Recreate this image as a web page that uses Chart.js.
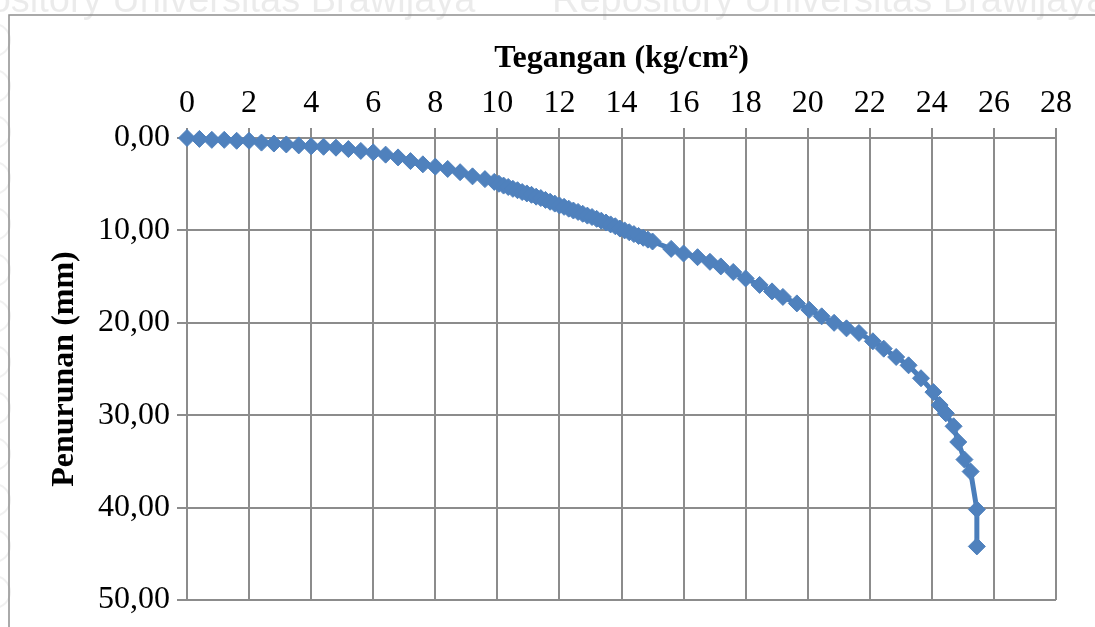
<!DOCTYPE html>
<html>
<head>
<meta charset="utf-8">
<script src="https://cdn.jsdelivr.net/npm/chart.js@4"></script>
<style>
    html, body { margin: 0; padding: 0; background: #fff; }
    canvas { display: block; }
</style>
</head>
<body>
<canvas id="myChart" width="1095" height="627"></canvas>
<script>
// Tegangan (kg/cm2) vs penurunan (mm)
const tegangan = [
    0, 0.4, 0.8, 1.2, 1.6, 2.0, 2.4, 2.8, 3.2, 3.6,
    4.0, 4.4, 4.8, 5.2, 5.6, 6.0, 6.4, 6.8, 7.2, 7.6,
    8.0, 8.4, 8.8, 9.2, 9.6,
    9.90, 10.05, 10.20, 10.35, 10.50, 10.65, 10.80, 10.95, 11.10, 11.25,
    11.40, 11.55, 11.70, 11.85, 12.00, 12.15, 12.30, 12.45, 12.60, 12.75,
    12.90, 13.05, 13.20, 13.35, 13.50, 13.65, 13.80, 13.95, 14.10, 14.25,
    14.40, 14.55, 14.70, 14.85, 15.00,
    15.60, 16.00, 16.45, 16.85, 17.20, 17.60, 18.00, 18.45, 18.85, 19.20,
    19.65, 20.05, 20.45, 20.85, 21.25, 21.65, 22.10, 22.45, 22.85, 23.25,
    23.65, 24.05, 24.25, 24.45, 24.70, 24.85, 25.05, 25.25, 25.45, 25.45
];
const penurunan = [
    0, 0.1, 0.2, 0.2, 0.3, 0.3, 0.5, 0.6, 0.7, 0.8,
    0.9, 0.95, 1.05, 1.2, 1.4, 1.55, 1.8, 2.1, 2.5, 2.85,
    3.1, 3.35, 3.7, 4.15, 4.45,
    4.75, 4.95, 5.15, 5.30, 5.50, 5.65, 5.85, 6.00, 6.15, 6.35,
    6.50, 6.70, 6.90, 7.10, 7.30, 7.45, 7.65, 7.85, 8.00, 8.20,
    8.40, 8.55, 8.75, 8.95, 9.15, 9.35, 9.55, 9.80, 10.00, 10.20,
    10.40, 10.60, 10.80, 11.00, 11.20,
    12.0, 12.5, 12.9, 13.4, 13.9, 14.5, 15.2, 15.9, 16.6, 17.2,
    17.9, 18.6, 19.3, 20.0, 20.6, 21.1, 22.0, 22.8, 23.7, 24.6,
    26.0, 27.5, 28.9, 29.8, 31.2, 32.9, 34.8, 36.1, 40.2, 44.2
];
const xTicks = [0, 28, 2];   // min, max, step
const yTicks = [0, 50, 10];

const gridColor = '#8c8c8c';
const serif = '"Liberation Serif", "Times New Roman", serif';

// white page, faint repository watermark and the outer frame
const pageBackground = {
    id: 'pageBackground',
    beforeDraw(chart) {
        const c = chart.ctx;
        c.save();
        c.fillStyle = '#fff';
        c.fillRect(0, 0, chart.width, chart.height);
        c.font = '38px "Liberation Sans", Arial, sans-serif';
        c.fillStyle = 'rgba(0,0,0,0.08)';
        c.textBaseline = 'alphabetic';
        c.fillText('Repository Universitas Brawijaya', -80, 12);
        c.fillText('Repository Universitas Brawijaya', 552, 12);
        c.strokeStyle = 'rgba(0,0,0,0.06)';
        c.lineWidth = 2;
        for (let y = 40; y < chart.height; y += 46) {
            c.beginPath();
            c.arc(-6, y, 16, 0, Math.PI * 2);
            c.stroke();
        }
        c.strokeStyle = '#8f8f8f';
        c.lineWidth = 1.5;
        c.strokeRect(9, 15, 1200, 700);
        c.restore();
    }
};

const ctx = document.getElementById('myChart').getContext('2d');
const myChart = new Chart(ctx, {
    type: 'scatter',
    data: {
        datasets: [{
            data: tegangan.map((t, i) => ({ x: t, y: penurunan[i] })),
            showLine: true,
            borderColor: '#4A7EBB',
            borderWidth: 5,
            pointStyle: 'rectRot',
            pointRadius: 8.5,
            pointBackgroundColor: '#4F81BD',
            pointBorderColor: '#4F81BD',
            pointBorderWidth: 1,
            tension: 0,
            clip: false
        }]
    },
    options: {
        responsive: false,
        animation: false,
        layout: {
            padding: { left: 20, top: 20, right: 39, bottom: 27 }
        },
        plugins: {
            legend: { display: false },
            title: { display: false },
            tooltip: { enabled: false }
        },
        scales: {
            x: {
                type: 'linear',
                position: 'top',
                min: xTicks[0],
                max: xTicks[1],
                afterFit(scale) { scale.height = 138 - 20; },
                ticks: {
                    stepSize: xTicks[2],
                    color: '#000',
                    padding: 5,
                    font: { family: serif, size: 32 }
                },
                grid: {
                    color: gridColor,
                    lineWidth: 2,
                    tickLength: 10
                },
                border: { color: gridColor, width: 2 },
                title: {
                    display: true,
                    text: 'Tegangan (kg/cm²)',
                    color: '#000',
                    padding: { top: 20, bottom: 0 },
                    font: { family: serif, size: 32, weight: 'bold' }
                }
            },
            y: {
                type: 'linear',
                reverse: true,
                min: yTicks[0],
                max: yTicks[1],
                afterFit(scale) { scale.width = 187 - 20; },
                ticks: {
                    stepSize: yTicks[2],
                    color: '#000',
                    padding: 7,
                    font: { family: serif, size: 32 },
                    callback: (v) => v.toFixed(2).replace('.', ',')
                },
                grid: {
                    color: gridColor,
                    lineWidth: 2,
                    tickLength: 10
                },
                border: { color: gridColor, width: 2 },
                title: {
                    display: true,
                    text: 'Penurunan (mm)',
                    color: '#000',
                    padding: { top: 26, bottom: 0 },
                    font: { family: serif, size: 32, weight: 'bold' }
                }
            }
        }
    },
    plugins: [pageBackground]
});
</script>
</body>
</html>
